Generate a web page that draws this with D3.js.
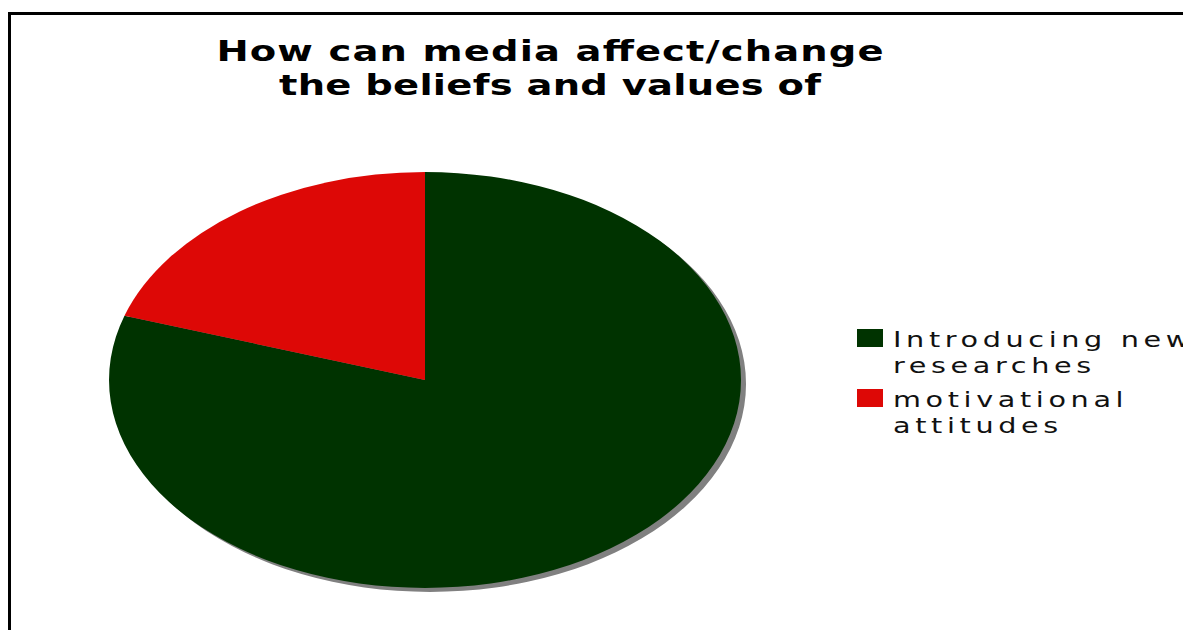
<!doctype html>
<html>
<head>
<meta charset="utf-8"/>
<title>How can media affect/change the beliefs and values of</title>
<style>
body{margin:0;background:#fff;}
svg{display:block;}
</style>
<script src="https://d3js.org/d3.v7.min.js"></script>
</head>
<body>
<script>
// data
var labels = ["Introducing new researches", "motivational attitudes"];
var legendLines = [["Introducing new", "researches"], ["motivational", "attitudes"]];
var values = [80, 20];
var colors = ["#003300", "#dd0806"];
var titleLines = ["How can media affect/change", "the beliefs and values of"];

var W = 1183, H = 630;
var stretch = 1.4; // glyphs are drawn wide in the original

var svg = d3.select("body").append("svg")
    .attr("width", W)
    .attr("height", H);

svg.append("rect").attr("width", W).attr("height", H).attr("fill", "white");

// frame (runs off the right and bottom)
svg.append("rect")
    .attr("x", 9.5).attr("y", 13.5)
    .attr("width", 1300).attr("height", 800)
    .attr("fill", "none")
    .attr("stroke", "black")
    .attr("stroke-width", 3);

// title
var titleW = [667, 542];
svg.selectAll("text.title")
    .data(titleLines)
    .enter()
    .append("text")
    .attr("class", "title")
    .attr("transform", function(d, i){ return "translate(550," + (61 + i * 34) + ") scale(" + stretch + ",1)"; })
    .attr("text-anchor", "middle")
    .attr("font-family", "DejaVu Sans")
    .attr("font-weight", "bold")
    .attr("font-size", 27.5)
    .attr("textLength", function(d, i){ return titleW[i] / stretch; })
    .attr("lengthAdjust", "spacing")
    .text(function(d){ return d; });

// pie
var cx = 425, cy = 380, rx = 316, ry = 208;
var pie = d3.pie().sort(null).value(function(d){ return d; });
var arcs = pie(values);
var arc = d3.arc().innerRadius(0).outerRadius(1);

var shadow = svg.append("g")
    .attr("transform", "translate(" + (cx + 5) + "," + (cy + 4) + ") scale(" + rx + "," + ry + ")");
shadow.selectAll("path")
    .data(arcs)
    .enter()
    .append("path")
    .attr("d", arc)
    .attr("fill", "#808080");

var g = svg.append("g")
    .attr("transform", "translate(" + cx + "," + cy + ") scale(" + rx + "," + ry + ")");
g.selectAll("path")
    .data(arcs)
    .enter()
    .append("path")
    .attr("d", arc)
    .attr("fill", function(d, i){ return colors[i]; });

// legend
var item = svg.append("g").selectAll("g")
    .data(labels)
    .enter()
    .append("g")
    .attr("transform", function(d, i){ return "translate(857," + (329 + i * 60) + ")"; });

item.append("rect")
    .attr("width", 26)
    .attr("height", 18)
    .attr("fill", function(d, i){ return colors[i]; });

item.each(function(d, i){
    var t = d3.select(this).append("text")
        .attr("transform", "translate(36,0) scale(" + stretch + ",1)")
        .attr("font-family", "DejaVu Sans")
        .attr("font-size", 20.5)
        .attr("letter-spacing", 3.3)
        .attr("fill", "#111");
    t.selectAll("tspan")
        .data(legendLines[i])
        .enter()
        .append("tspan")
        .attr("x", 0)
        .attr("y", function(l, j){ return 18 + j * 26; })
        .text(function(l){ return l; });
});
</script>
</body>
</html>
